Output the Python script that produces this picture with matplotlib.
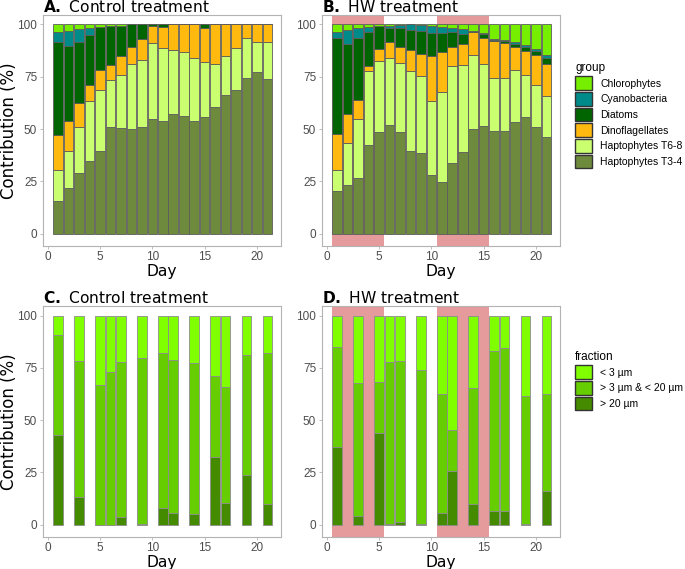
import numpy as np
import matplotlib
matplotlib.use("Agg")
from matplotlib import pyplot as plt
from matplotlib.patches import Patch

# ---- data (% contribution) ----
days = np.arange(1, 22)
groups = ["Haptophytes T3-4", "Haptophytes T6-8", "Dinoflagellates",
          "Diatoms", "Cyanobacteria", "Chlorophytes"]
gcols = ["#6E8B3D", "#CAFF70", "#FFB90F", "#006400", "#008B8B", "#76EE00"]

ctl_t34 = [15.7, 21.9, 29.0, 34.6, 39.5, 51.0, 50.5, 49.8, 50.8, 54.6, 54.0,
           57.1, 56.2, 53.7, 55.6, 60.5, 66.2, 68.6, 74.6, 77.1, 73.8]
ctl_t68 = [14.9, 17.8, 21.8, 28.6, 29.2, 22.2, 25.1, 31.2, 32.4, 36.7, 34.6,
           30.7, 30.8, 30.4, 26.3, 20.5, 18.9, 20.0, 19.1, 14.6, 17.6]
ctl_dino = [16.4, 14.3, 11.6, 7.6, 9.4, 7.4, 9.2, 8.2, 9.8, 8.1, 10.3,
            12.2, 13.0, 15.9, 16.5, 19.0, 14.9, 11.4, 6.3, 8.3, 8.6]
ctl_diat = [44.7, 35.8, 29.3, 24.1, 20.5, 18.4, 14.6, 10.8, 7.0, 0.6, 1.1,
            0, 0, 0, 1.6, 0, 0, 0, 0, 0, 0]
ctl_cyan = [4.5, 7.0, 6.1, 3.2, 0, 0, 0, 0, 0, 0, 0,
            0, 0, 0, 0, 0, 0, 0, 0, 0, 0]
ctl_chl = [3.8, 3.2, 2.2, 1.9, 1.4, 1.0, 0.6, 0, 0, 0, 0,
           0, 0, 0, 0, 0, 0, 0, 0, 0, 0]

hw_t34 = [20.3, 23.2, 26.5, 42.2, 48.6, 51.9, 48.4, 39.4, 38.6, 27.9, 24.8,
          33.8, 39.0, 50.0, 51.4, 48.9, 49.2, 53.3, 55.9, 50.8, 46.2]
hw_t68 = [10.3, 20.1, 28.4, 35.3, 33.9, 32.2, 33.2, 38.1, 36.5, 35.3, 42.8,
          46.5, 41.6, 35.4, 29.6, 25.7, 25.1, 25.1, 20.0, 20.3, 19.4]
hw_dino = [17.0, 13.8, 9.1, 2.7, 5.8, 7.6, 7.8, 10.1, 10.9, 21.9, 19.4,
           9.1, 9.9, 10.8, 12.7, 17.5, 16.8, 11.0, 11.4, 14.3, 15.4]
hw_diat = [45.7, 33.4, 29.7, 16.0, 10.7, 6.7, 8.7, 9.9, 10.8, 10.8, 8.9,
           6.8, 5.1, 0.6, 1.9, 0.6, 1.0, 1.4, 1.9, 1.9, 3.1]
hw_cyan = [3.2, 7.0, 4.4, 2.4, 0, 0.6, 1.6, 2.5, 2.9, 3.1, 2.8,
           2.2, 2.2, 0.2, 0.2, 0.3, 0.3, 0.6, 1.0, 1.0, 1.3]
hw_chl = [3.5, 2.5, 1.9, 1.4, 1.0, 1.0, 0.3, 0, 0.3, 1.0, 1.3,
          1.6, 2.2, 3.0, 4.2, 7.0, 7.6, 8.6, 9.8, 11.7, 14.6]

fdays = [1, 3, 5, 6, 7, 9, 11, 12, 14, 16, 17, 19, 21]
fracs = ["> 20 µm", "> 3 µm & < 20 µm", "< 3 µm"]
fcols = ["#458B00", "#66CD00", "#80FF00"]

ctl_big = [42.9, 13.2, 0, 0, 3.7, 0.3, 7.9, 5.7, 5.1, 32.2, 10.3, 23.8, 9.8]
ctl_mid = [47.7, 65.2, 66.7, 73.2, 74.2, 79.5, 74.3, 73.2, 72.2, 39.1, 55.7, 57.3, 72.3]
ctl_small = [9.4, 21.6, 33.3, 26.8, 22.1, 20.2, 17.8, 21.1, 22.7, 28.7, 34.0, 18.9, 17.9]

hw_big = [37.3, 4.1, 44.0, 0.3, 1.1, 0.2, 5.6, 25.6, 9.8, 6.5, 6.5, 0.2, 16.0]
hw_mid = [47.8, 63.8, 24.3, 77.5, 77.3, 73.6, 56.8, 19.8, 55.4, 76.7, 77.8, 61.2, 46.4]
hw_small = [14.9, 32.1, 31.7, 22.2, 21.6, 26.2, 37.6, 54.6, 34.8, 16.8, 15.7, 38.6, 37.6]

heatwaves = [(0.5, 5.5), (10.5, 15.5)]

# ---- figure ----
W, H = 685, 569
fig = plt.figure(figsize=(W/100, H/100), dpi=100)

def box(l, r, t, b):
    return [l/W, 1-b/H, (r-l)/W, (b-t)/H]

axA = fig.add_axes(box(42.7, 281, 14.7, 245.7))
axB = fig.add_axes(box(321.7, 560, 14.7, 245.7))
axC = fig.add_axes(box(42.7, 281, 306, 536.7))
axD = fig.add_axes(box(321.7, 560, 306, 536.7))

tickfont = "Liberation Sans"

def style(ax, letter, title, ylab):
    ax.set_xlim(-0.48, 22.3)
    ax.set_ylim(-5.7, 104.6)
    ax.set_xticks([0, 5, 10, 15, 20])
    ax.set_yticks([0, 25, 50, 75, 100])
    for s in ax.spines.values():
        s.set_color("#b3b3b3")
        s.set_linewidth(0.8)
    ax.tick_params(colors="#b3b3b3", labelcolor="#4d4d4d", labelsize=8.5,
                   length=2.5, width=0.6, pad=1.5)
    for lab in ax.get_xticklabels() + ax.get_yticklabels():
        lab.set_family(tickfont)
    ax.set_xlabel("Day", fontsize=11.2)
    ax.xaxis.set_label_coords(0.5, -0.078)
    ax.xaxis.label.set_va("top")
    if ylab:
        ax.set_ylabel("Contribution (%)", fontsize=12)
        ax.yaxis.set_label_coords((18.5 - 42.7) / 238.3, 0.5)
    ax.set_title(r"$\bf{" + letter + ".}$ " + title, loc="left",
                 fontsize=11.2, pad=0.8, x=0.0)

def shade(ax):
    for a, b in heatwaves:
        ax.axvspan(a, b, color="#E59A9C", lw=0, zorder=0)

def stack(ax, x, series, cols, ec, w=0.92):
    bottom = np.zeros(len(x))
    for vals, c in zip(series, cols):
        vals = np.array(vals)
        ax.bar(x, vals, width=w, bottom=bottom, color=c, edgecolor=ec,
               linewidth=0.6, zorder=2)
        bottom = bottom + vals

shade(axB)
shade(axD)
stack(axA, days, [ctl_t34, ctl_t68, ctl_dino, ctl_diat, ctl_cyan, ctl_chl], gcols, "#5c5c5c")
stack(axB, days, [hw_t34, hw_t68, hw_dino, hw_diat, hw_cyan, hw_chl], gcols, "#5c5c5c")
stack(axC, fdays, [ctl_big, ctl_mid, ctl_small], fcols, "#8c8c8c")
stack(axD, fdays, [hw_big, hw_mid, hw_small], fcols, "#8c8c8c")

style(axA, "A", "Control treatment", True)
style(axB, "B", "HW treatment", False)
style(axC, "C", "Control treatment", True)
style(axD, "D", "HW treatment", False)

# legends
gh = [Patch(facecolor=c, edgecolor="#333333", linewidth=1) for c in gcols[::-1]]
lg = fig.legend(gh, groups[::-1], title="group", loc="upper left",
                bbox_to_anchor=(571/W, 1-58/H), frameon=False,
                handlelength=1.6, handleheight=1.6, labelspacing=0.22,
                handletextpad=0.8, borderaxespad=0, alignment="left",
                prop={"family": tickfont, "size": 7.5},
                title_fontproperties={"family": tickfont, "size": 8.5})

fh = [Patch(facecolor=c, edgecolor="#333333", linewidth=1) for c in fcols[::-1]]
fl = fig.legend(fh, fracs[::-1], title="fraction", loc="upper left",
                bbox_to_anchor=(571/W, 1-347/H), frameon=False,
                handlelength=1.6, handleheight=1.6, labelspacing=0.22,
                handletextpad=0.8, borderaxespad=0, alignment="left",
                prop={"family": tickfont, "size": 7.5},
                title_fontproperties={"family": tickfont, "size": 8.5})

plt.savefig("out.png", dpi=100)
